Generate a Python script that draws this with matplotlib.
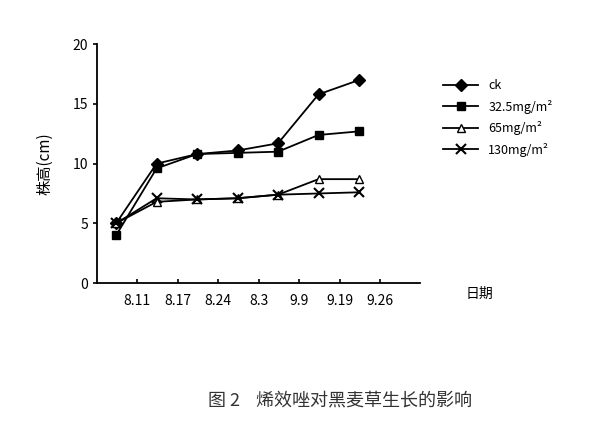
import matplotlib
matplotlib.use("Agg")
import matplotlib.pyplot as plt

plt.rcParams['font.family'] = ['Noto Sans CJK SC', 'DejaVu Sans']

dates = ["8.11", "8.17", "8.24", "8.3", "9.9", "9.19", "9.26"]
ck = [5, 10, 10.8, 11.1, 11.7, 15.8, 17]
s325 = [4, 9.6, 10.8, 10.9, 11.0, 12.4, 12.7]
s65 = [5, 6.8, 7.0, 7.1, 7.4, 8.7, 8.7]
s130 = [5, 7.1, 7.0, 7.1, 7.4, 7.5, 7.6]
labels = ["ck", "32.5mg/m²", "65mg/m²", "130mg/m²"]

fig = plt.figure(figsize=(5.92, 4.25), dpi=100)
ax = fig.add_axes([0.164, 0.334, 0.545, 0.562])
x = list(range(len(ck)))
h = []
h += ax.plot(x, ck, 'k-', marker='D', ms=6, lw=1.3)
h += ax.plot(x, s325, 'k-', marker='s', ms=6, lw=1.3)
h += ax.plot(x, s65, 'k-', marker='^', ms=6, mfc='white', lw=1.3)
h += ax.plot(x, s130, 'k-', marker='x', ms=7, mew=1.5, lw=1.3)
ax.set_xlim(-0.47, 7.5)
ax.set_ylim(0, 20)
ax.set_yticks([0, 5, 10, 15, 20])
ax.set_xticks([i + 0.52 for i in range(len(dates))])
ax.set_xticklabels(dates, fontsize=10)
ax.tick_params(labelsize=10, length=3, width=1.2)
ax.tick_params(axis='x', direction='in', pad=8)
for s in ['top', 'right']:
    ax.spines[s].set_visible(False)
for s in ['left', 'bottom']:
    ax.spines[s].set_linewidth(1.3)
ax.set_ylabel("株高(cm)", fontsize=11, labelpad=14)
fig.text(0.81, 0.30, "日期", fontsize=10, ha='center')
fig.legend(h, labels, loc='upper left', bbox_to_anchor=(0.73, 0.84), frameon=False,
           fontsize=9, handlelength=2.8, labelspacing=0.6)
fig.text(0.575, 0.045, "图 2    烯效唑对黑麦草生长的影响", fontsize=13, ha='center', color='#333333')
fig.savefig("out.png", dpi=100)
